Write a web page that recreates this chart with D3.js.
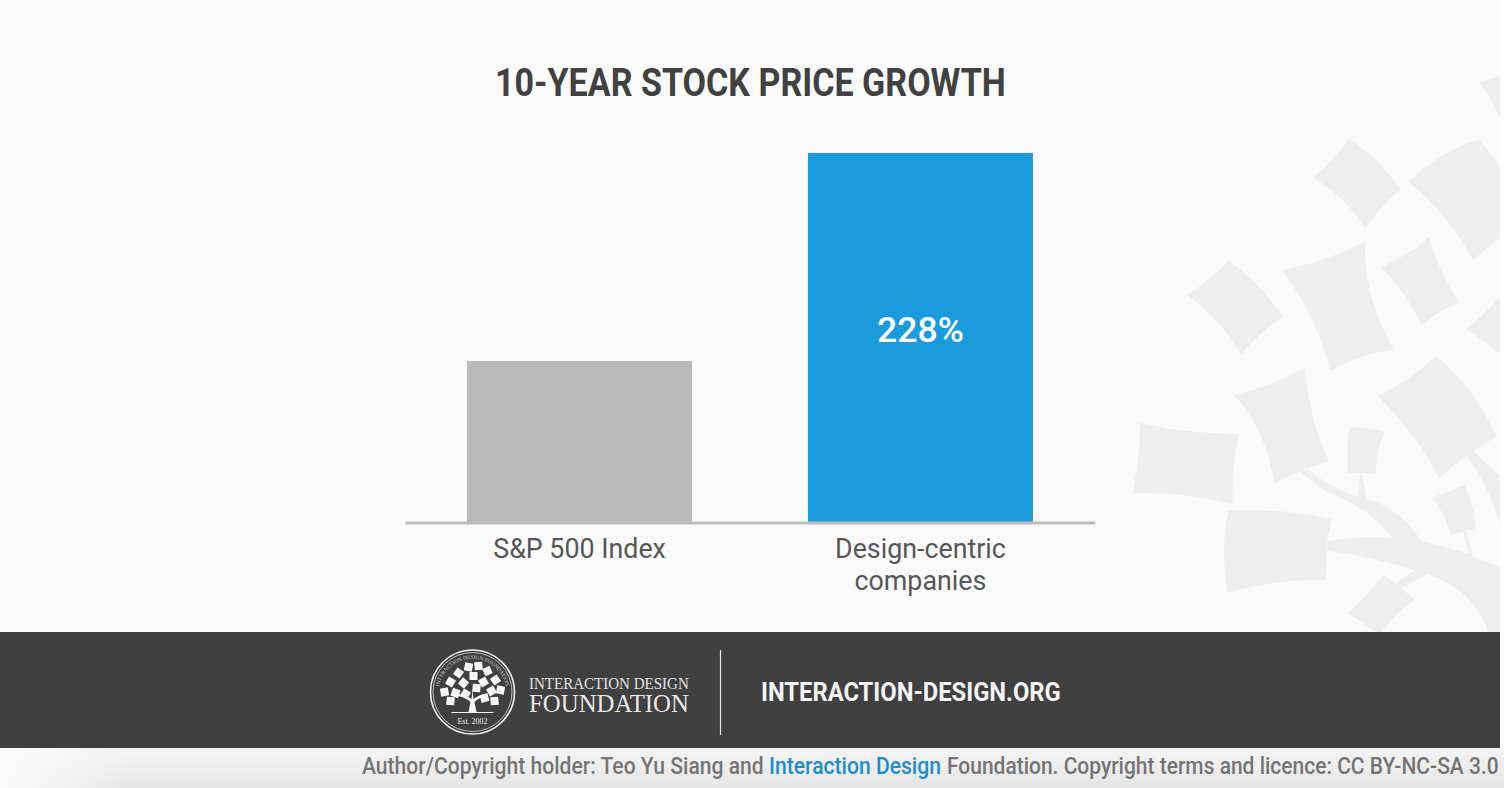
<!DOCTYPE html>
<html>
<head>
    <title>10-Year Stock Price Growth</title>
    <meta charset="utf-8">
    <script src="https://cdn.jsdelivr.net/npm/d3@7"></script>
    <style>
        html, body {
            margin: 0;
            padding: 0;
            background: #fff;
            overflow: hidden;
        }
        text {
            font-family: Roboto, sans-serif;
        }
        .axis path {
            stroke: #bdbdbd;
            stroke-width: 3px;
        }
        .axis text {
            font-size: 26.8px;
            fill: #575757;
        }
    </style>
</head>
<body>
    <div id="chart"></div>

    <script>
        const categories = ["S&P 500 Index", "Design-centric companies"];
        const growth = [99.5, 228];
        const valueLabels = [null, "228%"];
        const barColors = ["#b9b9b9", "#1a9cdc"];

        const svg = d3.select("#chart")
            .append("svg")
            .attr("width", 1504)
            .attr("height", 788)
            .style("display", "block");

        const defs = svg.append("defs");
        const strip = defs.append("linearGradient")
            .attr("id", "strip")
            .attr("x2", 0)
            .attr("y2", 1);
        strip.append("stop").attr("offset", "0").attr("stop-color", "#f4f4f4");
        strip.append("stop").attr("offset", "1").attr("stop-color", "#e6e6e6");
        const fade = defs.append("linearGradient").attr("id", "fade");
        fade.append("stop").attr("offset", "0").attr("stop-color", "#fbfbfb");
        fade.append("stop").attr("offset", "1").attr("stop-color", "#fbfbfb").attr("stop-opacity", 0);

        // squeeze a text to the width it has in the picture
        function fit(sel, x, y, width) {
            const len = sel.node().getComputedTextLength();
            sel.attr("transform", `translate(${x},${y}) scale(${width / len},1)`);
            return sel;
        }

        // page background and footer
        svg.append("rect").attr("width", 1504).attr("height", 788).attr("fill", "#fff");
        svg.append("rect").attr("width", 1500).attr("height", 632).attr("fill", "#fafafa");
        svg.append("rect").attr("y", 748).attr("width", 1504).attr("height", 40).attr("fill", "url(#strip)");
        svg.append("rect").attr("y", 748).attr("width", 130).attr("height", 40).attr("fill", "url(#fade)");

        const watermark = [
            "M640 318Q700 275 745 213Q840 265 900 350Q840 395 797 455Q735 370 640 318Z",
            "M925 328Q1020 250 1135 215Q1170 245 1200 290L1200 480Q1160 510 1118 540Q1050 420 925 328Z",
            "M1138 60L1200 42L1200 155Q1175 105 1138 60Z",
            "M843 560Q920 530 988 480Q1020 580 1078 655Q1020 675 965 717Q920 630 843 560Z",
            "M545 568Q680 545 795 490Q790 640 882 783Q780 795 690 840Q650 690 545 568Z",
            "M262 635Q330 595 385 542Q480 600 548 693Q480 735 423 795Q360 700 262 635Z",
            "M1098 727Q1150 690 1200 640L1200 795Q1150 755 1098 727Z",
            "M833 908Q930 865 1008 800Q1120 880 1190 1018Q1100 1060 1018 1130Q950 1010 833 908Z",
            "M402 905Q520 880 615 830Q630 980 688 1085Q600 1105 523 1145Q500 1000 402 905Z",
            "M120 980Q260 1010 418 1010Q395 1090 397 1200Q250 1165 97 1170Q120 1080 120 980Z",
            "M748 993Q800 990 855 1003Q830 1050 827 1117L743 1115Q738 1050 748 993Z",
            "M995 1182Q1050 1165 1095 1148Q1120 1200 1128 1265L1050 1283Q1040 1230 995 1182Z",
            "M385 1218Q540 1210 695 1240L680 1300L678 1405Q530 1400 383 1440Q360 1320 385 1218Z",
            "M742 1495Q800 1450 852 1390Q900 1425 945 1458Q890 1490 845 1545L830 1545Q790 1520 742 1495Z",
            "M680 1300Q780 1285 875 1290Q810 1210 690 1170Q640 1145 600 1110L620 1105Q700 1160 775 1180L780 1117L785 1117L800 1185Q900 1210 965 1300Q1040 1315 1105 1335L1090 1270L1100 1270L1118 1342Q1160 1355 1200 1370L1200 1545L1165 1545Q1120 1430 985 1390Q930 1410 885 1440L875 1425Q910 1395 945 1378Q830 1345 680 1325Z",
            "M1120 1055Q1160 1090 1200 1125L1200 1260Q1170 1150 1100 1070Z"
        ];
        svg.append("g")
            .attr("transform", "translate(1100,60) scale(0.3333,0.3702)")
            .selectAll("path")
            .data(watermark)
            .join("path")
            .attr("d", d => d)
            .attr("fill", "#eeeeee");

        svg.append("text")
            .attr("font-size", 39.5)
            .attr("font-weight", 700)
            .attr("fill", "#414141")
            .text("10-YEAR STOCK PRICE GROWTH")
            .call(fit, 495, 96, 511);

        const x = d3.scaleBand()
            .domain(categories)
            .range([405, 1095])
            .paddingInner(0.34)
            .paddingOuter(0.182);

        const y = d3.scaleLinear()
            .domain([0, 228])
            .range([522, 153]);

        svg.selectAll("rect.bar")
            .data(growth)
            .join("rect")
            .attr("class", "bar")
            .attr("x", (d, i) => x(categories[i]))
            .attr("y", d => y(d))
            .attr("width", x.bandwidth())
            .attr("height", d => y(0) - y(d))
            .attr("fill", (d, i) => barColors[i]);

        svg.selectAll("text.value")
            .data(valueLabels)
            .join("text")
            .attr("class", "value")
            .attr("x", (d, i) => x(categories[i]) + x.bandwidth() / 2)
            .attr("y", 342)
            .attr("text-anchor", "middle")
            .attr("font-size", 35.5)
            .attr("font-weight", 500)
            .attr("fill", "#fff")
            .text(d => d);

        const axis = svg.append("g")
            .attr("class", "axis")
            .attr("transform", "translate(0,522.5)")
            .call(d3.axisBottom(x).tickSize(0).tickSizeOuter(0));

        // the long label wraps after its first word
        axis.selectAll(".tick text")
            .attr("y", 0)
            .attr("dy", null)
            .each(function (d) {
                const words = d.includes("-") ? d.split(" ") : [d];
                const label = d3.select(this).text(null);
                words.forEach((w, i) => {
                    label.append("tspan")
                        .attr("x", 0)
                        .attr("y", 35 + i * 32)
                        .text(w);
                });
            });

        // dark footer band
        const footer = svg.append("g");
        footer.append("rect")
            .attr("y", 632)
            .attr("width", 1500)
            .attr("height", 116)
            .attr("fill", "#404040");

        const logo = footer.append("g")
            .attr("transform", "translate(472.5,692)")
            .attr("fill", "none")
            .attr("stroke", "#f2f2f2");
        logo.append("circle").attr("r", 42).attr("stroke-width", 1.6);
        logo.append("circle").attr("r", 39.5).attr("stroke-width", 0.7);
        defs.append("path")
            .attr("id", "ring")
            .attr("d", "M-33 9A34 34 0 1 1 33 9");
        logo.append("text")
            .attr("fill", "#cfcfcf")
            .attr("stroke", "none")
            .attr("font-size", 5.4)
            .style("font-family", "'Liberation Serif', serif")
            .append("textPath")
            .attr("href", "#ring")
            .attr("startOffset", "50%")
            .attr("text-anchor", "middle")
            .text("INTERACTION DESIGN FOUNDATION");

        const tree = logo.append("g").attr("stroke", "none").attr("fill", "#f7f7f7");
        const treeLeaves = [
            [-28, 0, -10], [-22, -10, 30], [-14, -19, 35], [-4, -25, 10], [6, -26, -5],
            [15, -21, -25], [23, -12, -35], [28, -2, 10], [-17, 1, 20], [-9, -9, 40],
            [1, -16, 0], [11, -10, -30], [19, -1, -30], [-7, 2, 30], [4, -4, 5],
            [-22, 9, 5], [22, 9, -5], [12, 6, -15]
        ];
        tree.selectAll("rect")
            .data(treeLeaves)
            .join("rect")
            .attr("x", -4)
            .attr("y", -4)
            .attr("width", 8)
            .attr("height", 8)
            .attr("transform", d => `translate(${d[0]},${d[1]}) rotate(${d[2]})`);
        tree.append("path")
            .attr("d", "M-4 20L-2 10Q-7 5 -15 4L-14 2Q-6 3 -1 7L0 -2L1 7Q6 3 14 2L15 4Q7 5 2 10L4 20Z");
        logo.append("path")
            .attr("d", "M-21 20.5H21")
            .attr("stroke-width", 1);
        logo.append("text")
            .attr("y", 32)
            .attr("text-anchor", "middle")
            .attr("fill", "#ececec")
            .attr("stroke", "none")
            .attr("font-size", 8)
            .style("font-family", "'Liberation Serif', serif")
            .text("Est. 2002");

        footer.append("text")
            .attr("font-size", 16.5)
            .attr("fill", "#e0e0e0")
            .style("font-family", "'Liberation Serif', serif")
            .text("INTERACTION DESIGN")
            .call(fit, 529, 689, 160);
        footer.append("text")
            .attr("font-size", 25.5)
            .attr("fill", "#e8e8e8")
            .style("font-family", "'Liberation Serif', serif")
            .text("FOUNDATION")
            .call(fit, 529, 712, 160);
        footer.append("line")
            .attr("x1", 720.5)
            .attr("x2", 720.5)
            .attr("y1", 650)
            .attr("y2", 735)
            .attr("stroke", "#e6e6e6")
            .attr("stroke-width", 1.2);
        footer.append("text")
            .attr("font-size", 25)
            .attr("font-weight", 700)
            .attr("fill", "#f4f4f4")
            .text("INTERACTION-DESIGN.ORG")
            .call(fit, 761, 701, 300);

        // credit line, one text per colour
        const creditParts = [
            ["Author/Copyright holder: Teo Yu Siang and", "#757575", 362, 402],
            ["Interaction Design", "#1f8dc9", 769, 172],
            ["Foundation. Copyright terms and licence: CC BY-NC-SA 3.0", "#757575", 947, 552]
        ];
        creditParts.forEach(p => {
            svg.append("text")
                .attr("font-size", 24)
                .attr("font-weight", 500)
                .attr("fill", p[1])
                .text(p[0])
                .call(fit, p[2], 774, p[3]);
        });
    </script>
</body>
</html>
